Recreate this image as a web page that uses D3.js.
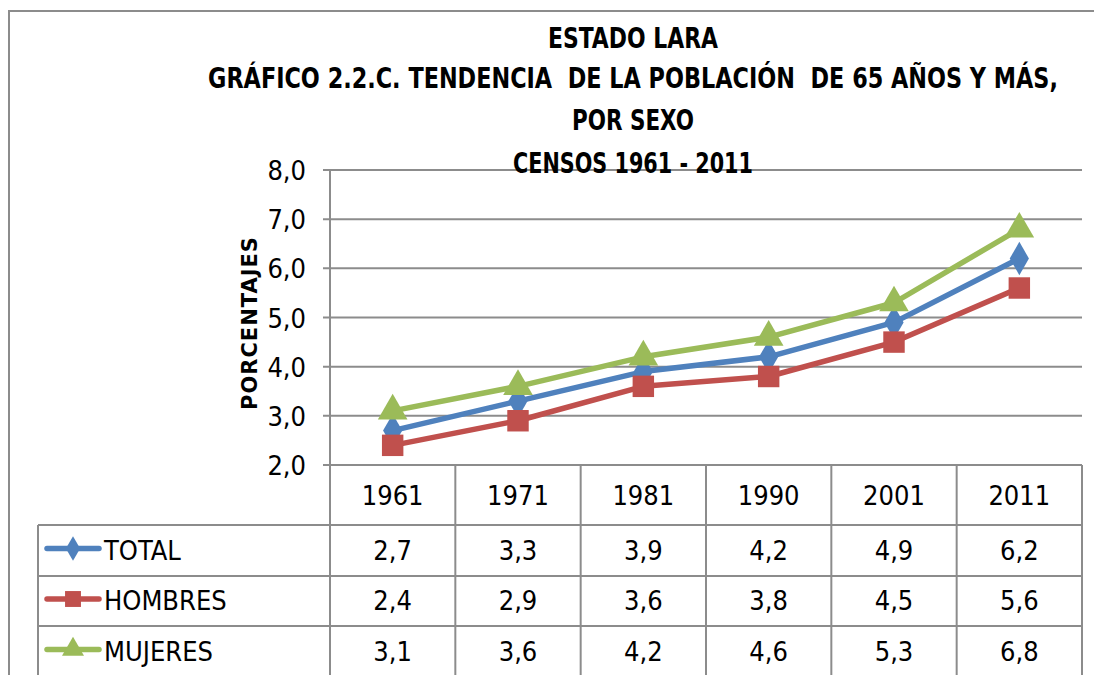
<!DOCTYPE html>
<html>
<head>
<meta charset="utf-8">
<script src="https://cdn.jsdelivr.net/npm/d3@7"></script>
<style>
  body { margin: 0; background: #fff; }
  svg { display: block; }
  text { font-family: 'Liberation Sans Narrow', 'DejaVu Sans Condensed', sans-serif; fill: #000; }
</style>
</head>
<body>
<div id="chart"></div>
<script>
const years = ["1961", "1971", "1981", "1990", "2001", "2011"];
const total = [2.7, 3.3, 3.9, 4.2, 4.9, 6.2];
const hombres = [2.4, 2.9, 3.6, 3.8, 4.5, 5.6];
const mujeres = [3.1, 3.6, 4.2, 4.6, 5.3, 6.8];
const seriesNames = ["TOTAL", "HOMBRES", "MUJERES"];
const yTicks = [2, 3, 4, 5, 6, 7, 8];
const titleLines = [
  "ESTADO LARA",
  "GRÁFICO 2.2.C. TENDENCIA  DE LA POBLACIÓN  DE 65 AÑOS Y MÁS,",
  "POR SEXO",
  "CENSOS 1961 - 2011"
];

const width = 1094, height = 675;
const gridColor = "#8c8c8c";
const colors = ["#4f81bd", "#c0504d", "#9bbb59"];
const shapes = [d3.symbolDiamond, d3.symbolSquare, d3.symbolTriangle];

const svg = d3.select("#chart").append("svg")
  .attr("width", width)
  .attr("height", height);

// outer chart border
svg.append("path")
  .attr("d", "M9,676 V11 H1100")
  .attr("fill", "none")
  .attr("stroke", gridColor)
  .attr("stroke-width", 2);

const plotLeft = 330, plotRight = 1082, plotTop = 170, plotBottom = 465;

const x = d3.scaleBand().domain(years).range([plotLeft, plotRight]);
const y = d3.scaleLinear().domain([2, 8]).range([plotBottom, plotTop]);

// gridlines
svg.append("g")
  .selectAll("line")
  .data(yTicks)
  .join("line")
  .attr("x1", plotLeft - 7)
  .attr("x2", plotRight)
  .attr("y1", d => y(d))
  .attr("y2", d => y(d))
  .attr("stroke", gridColor)
  .attr("stroke-width", 2);

// y axis line
svg.append("line")
  .attr("x1", plotLeft).attr("x2", plotLeft)
  .attr("y1", plotTop).attr("y2", plotBottom)
  .attr("stroke", gridColor).attr("stroke-width", 2);

// y tick labels
svg.append("g")
  .selectAll("text")
  .data(yTicks)
  .join("text")
  .attr("x", 306)
  .attr("y", d => y(d) + 10)
  .attr("text-anchor", "end")
  .attr("font-size", 27)
  .text(d => d.toFixed(1).replace(".", ","));

svg.append("text")
  .attr("transform", "translate(257,323) rotate(-90)")
  .attr("text-anchor", "middle")
  .attr("font-size", 21)
  .attr("font-weight", "bold")
  .attr("letter-spacing", 1)
  .style("font-family", "'DejaVu Sans', sans-serif")
  .text("PORCENTAJES");

// title - squeeze each line horizontally to the width it has in the original
const titleY = [48, 88, 130, 173];
const titleW = [170, 850, 122, 240];
svg.append("g")
  .selectAll("text")
  .data(titleLines)
  .join("text")
  .attr("x", 0)
  .attr("y", 0)
  .attr("text-anchor", "middle")
  .attr("font-size", 29)
  .attr("font-weight", "bold")
  .style("white-space", "pre")
  .text(d => d)
  .each(function (d, i) {
    const len = this.getComputedTextLength();
    const k = Math.min(1, titleW[i] / len);
    d3.select(this).attr("transform", `translate(633,${titleY[i]}) scale(${k},1)`);
  });

// series
const data = [total, hombres, mujeres];
const line = d3.line()
  .x((d, i) => x(years[i]) + x.bandwidth() / 2)
  .y(d => y(d));

const series = svg.append("g")
  .selectAll("g")
  .data(data)
  .join("g");

series.append("path")
  .attr("d", d => line(d))
  .attr("fill", "none")
  .attr("stroke", (d, i) => colors[i])
  .attr("stroke-width", 5.5)
  .attr("stroke-linejoin", "round");

const markerSize = [320, 460, 380];
series.each(function (vals, si) {
  d3.select(this).selectAll("path.mk")
    .data(vals)
    .join("path")
    .attr("class", "mk")
    .attr("transform", (d, i) => `translate(${x(years[i]) + x.bandwidth() / 2},${y(d)})`)
    .attr("d", d3.symbol().type(shapes[si]).size(markerSize[si]))
    .attr("fill", colors[si]);
});

// data table
const tableLeft = 38;
const rowLines = [465, 525, 576, 626, 677];
const table = svg.append("g");

// horizontal lines
table.selectAll("line.h")
  .data(rowLines.slice(1))
  .join("line")
  .attr("class", "h")
  .attr("x1", tableLeft).attr("x2", plotRight)
  .attr("y1", d => d).attr("y2", d => d)
  .attr("stroke", gridColor).attr("stroke-width", 2);

// vertical lines
const colEdges = years.map(c => x(c)).concat([plotRight]);
table.selectAll("line.v")
  .data(colEdges)
  .join("line")
  .attr("class", "v")
  .attr("x1", d => d).attr("x2", d => d)
  .attr("y1", plotBottom).attr("y2", 677)
  .attr("stroke", gridColor).attr("stroke-width", 2);

table.append("line")
  .attr("x1", tableLeft).attr("x2", tableLeft)
  .attr("y1", rowLines[1]).attr("y2", 677)
  .attr("stroke", gridColor).attr("stroke-width", 2);

// header years
table.selectAll("text.yr")
  .data(years)
  .join("text")
  .attr("class", "yr")
  .attr("x", d => x(d) + x.bandwidth() / 2)
  .attr("y", 505)
  .attr("text-anchor", "middle")
  .attr("font-size", 27)
  .text(d => d);

// value rows
data.forEach((vals, si) => {
  const mid = (rowLines[si + 1] + rowLines[si + 2]) / 2;
  const row = table.append("g");
  row.selectAll("text")
    .data(vals)
    .join("text")
    .attr("x", (d, i) => x(years[i]) + x.bandwidth() / 2)
    .attr("y", mid + 9)
    .attr("text-anchor", "middle")
    .attr("font-size", 27)
    .text(d => d.toFixed(1).replace(".", ","));

  // legend key
  row.append("line")
    .attr("x1", 47).attr("x2", 99)
    .attr("y1", mid - 2).attr("y2", mid - 2)
    .attr("stroke", colors[si])
    .attr("stroke-width", 5.5)
    .attr("stroke-linecap", "round");
  row.append("path")
    .attr("transform", `translate(73,${mid - 2})`)
    .attr("d", d3.symbol().type(shapes[si]).size(markerSize[si] * 0.55))
    .attr("fill", colors[si]);
  row.append("text")
    .attr("x", 104)
    .attr("y", mid + 9)
    .attr("font-size", 27)
    .text(seriesNames[si]);
});
</script>
</body>
</html>
